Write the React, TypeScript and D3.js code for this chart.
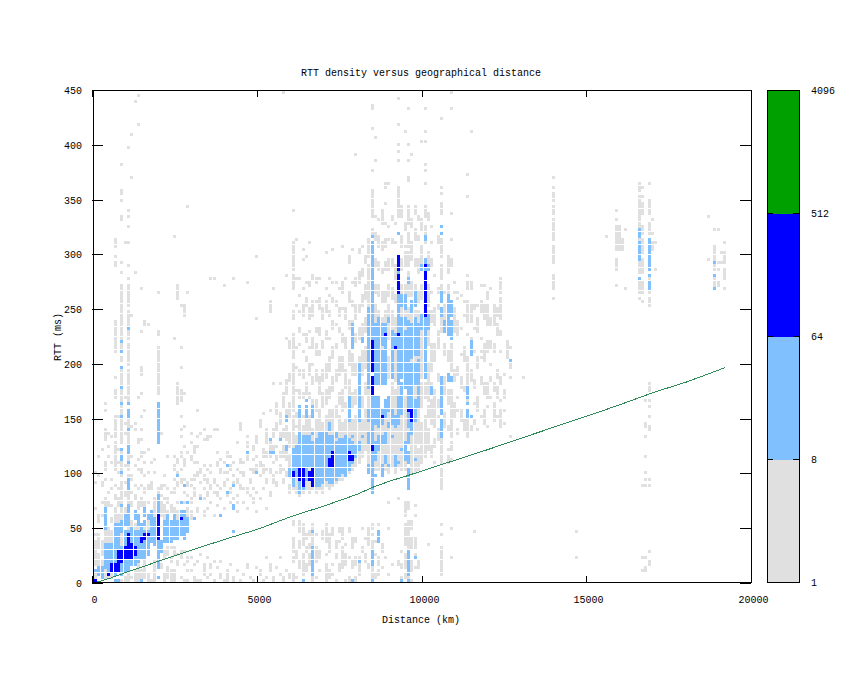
import React, { useEffect, useRef } from "react";
import * as d3 from "d3";

// histogram bins: 100 km wide, 3 ms tall. each entry is [column, "rows"], rows inclusive
const binKm = 100;
const binMs = 3;

const grayNearBins: [number, string][] = [
  [0, "1-3 5-12 14 22 30 33"], [1, "2-8 10-14 18-20 32 38"], [2, "1-6 8-12 20 24 29-30 40"],
  [3, "1-3 12-15 23-25 31 34-36 43-46 52 54"], [4, "1-2 12-16 23-24 27 38 41 45"],
  [5, "1-2 12-15 18-19 23 28 31 36 44"], [6, "0 17-22 25-26 29 34-42 44-50 56-58 62 70-79 96-97 99 102-104"],
  [7, "17-20 23-25 28 33 36 40 50"], [8, "0 11-14 18-30 32-40 42-64 67-68 71-76 77-90 94 97 110-111 116 118-119 127"],
  [9, "0-1 10-14 21-22 26-27 30 35 45 48 56 103"], [10, "0-2 16 20-32 34-52 54-64 66-72 74-76 78-82 84-90 92 96 103 108 111 113 132"],
  [11, "1 16-18 23-24 27 31-32 38 47 81 123 136"], [12, "0-3 16-17 21 25-26 29 35 46 48 94 146"],
  [13, "0-5 16 22-24 28 34 37 42-43 56 139 148"], [14, "0-3 17 23-25 29 33-34 38-39 43 46 50 57 63-65 76 89"],
  [15, "1-6 16 23-24 27-28 32 36 39 52 78-79"], [16, "0-2 16-19 24 28-29 33 40 78"], [17, "0 18 21 28-30 36"],
  [18, "0-6 17-25 33 37"], [19, "21-28 57-71 75-76 88"],
  [20, "4-5 20-24 26 28-29 45"], [21, "0-2 7-9 19-23 25 29 32"], [22, "1-4 8-10 19-21 24-25 28 38"],
  [23, "0-3 6-7 10 21-23 27"], [24, "0-3 8-10 20-22 27-28 31 34-35 38 74 105"],
  [25, "5-6 8 18-21 24 29-30 33 36-37 54-60 86-90"], [26, "1 7-9 20-21 24 30-31 34 38-39 44 46 50 55-58 65 71 84"],
  [27, "0 5 9 18-20 24 27 31 35-37 41 47 57 81-84"], [28, "0 3 6-7 20-22 26 29-30 39 88 114"],
  [29, "3 7 19-21 24-25 29 31 37-38 42 45"], [30, "0-1 5 26-28 31-32 36 39-41"],
  [31, "0 6 21-22 32-33 36 41 44 52"], [32, "0 8 25-26 30 33-34 45"], [33, "2-5 20-21 25 28 31-32 35 43 46"],
  [34, "1 7 22 26-27 30-31 34 43-44"], [35, "2 4-5 24 28-29 33 35 44 92"], [36, "0 6 20 27 30-31 46 92"],
  [37, "4 23 26-27 29 35-36 39 46"], [38, "1-2 6 25 28 33-34 37"], [39, "0 22 29-30 33 36 90"],
  [40, "0-3 26-27 31 33 38-39"], [41, "5 24 27-28 34-35 38"], [42, "0-1 25 30 32 36 92"],
  [43, "3 21 24 26 30-31 34 42"], [44, "0 28-29 33 36-37 46-48"], [45, "2 24 28 32-33 36"],
  [46, "4-5 22 27-28 37-38 41-42 44 91"], [47, "1 26 30-31 34"], [48, "0 24-25 28 33-34 37 40-41"],
  [49, "4 21 27 34-35 38 42-44 80 99"], [50, "2-3 25 32 35-36 47-49"], [51, "0 28 33-35 38-40 51"],
  [52, "1 7 22 30-31 34 38-39 42-46"], [53, "3-5 26-27 33-34 38 40-43 52 82-85"], [54, "0-1 30-32 36 40-41 44-46 60 89"],
  [55, "4 29-30 33 37-38 41 46-48 51-54"], [56, "2 7 33-35 38-39 43-45 48-51 60"], [57, "0-1 30-31 34 38-41 44-46 53-57 149"],
  [58, "3 32-33 37-40 43-47 50-52 57-61 74 93"], [59, "1-2 27-29 33-38 41-45 50-54 61-63 71-73"],
  [60, "0-2 6-7 9-13 17-18 28-50 52-66 68-75 80-82 89-93 95-103 113"],
];

const grayMidBins: [number, string][] = [
  [61, "1 7-9 27-44 47 50-51 58 65 71 84 92 104"],
  [62, "4-6 10-12 15-18 26-31 33-53 56-58 63-64 72 76-77 82 87 92"],
  [63, "2-8 11-17 27-47 50 56-57 62-64 70 75 81-84 89 98 101"],
  [64, "3-5 9-10 13-14 28-49 57-60 67-68 73-75 84-86 91 99"],
  [65, "5-8 10-11 14-15 27-50 56-57 63-66 71 76 80-83 90-91 103"],
  [66, "0-1 11-14 16-17 28-46 53-55 60-62 66 71-74 81-85 92-93"],
  [67, "1 6-10 14 27-49 52-55 61-64 69-72 76-77 85 91-92"],
  [68, "3 7-9 28-52 57-62 69-70 75-77 83-86 92"],
  [69, "13-15 27-48 53-57 61-64 71-73 80-83"],
  [70, "0-5 8 12-17 29-50 54-58 62-66 74-76 82-85 89 100"],
  [71, "1-3 9-14 28-52 56-59 64-68 74 81-82 87 92"],
  [72, "2 5 14-16 29-52 58-62 68-71 77-79 85-86 91 101"],
  [73, "0 7-8 10-12 30-45 50-53 61-64 71-72 78 84-85 91"],
  [74, "3-5 12 15-16 31-50 54-57 63-68 76-77 81-83 89"],
  [75, "4-10 13-16 31-48 52-58 64-68 73-75 83 88-91 102"],
  [76, "0 5-8 11 32-49 53-54 59-64 71-74 80-83 92"],
  [77, "0-1 7 15-16 33-50 57-61 66-70 77-79 85-88 97-99"],
  [78, "4-6 10-13 34-49 53-57 63-69 75-79 84-85 91 101"],
  [79, "0-1 5-7 12-13 35-50 54-58 63-66 73-75 80-84 90-92 130"],
  [80, "2-7 36-50 55-58 63-68 74-77 82-84 91-94 100-101"],
  [81, "9-10 16 38-49 53-56 63-70 75-78 84-87 93-95 102"],
  [82, "6-8 13 40-52 57-60 65-71 76-80 86-90 97-99"],
  [83, "4-5 11-16 36-49 52-60 84-96 99-104"],
  [84, "0-4 9-12 14 16-17 105-107 111-119 125 138 144-145"],
  [85, "1-2 8 12 34-47 60-84 88-90 96-98 104-106 111 128 135"],
  [86, "2-3 5-7 17 34-46 62-82 87-90 95-97 102-105 110"],
  [87, "4 9-11 33-47 64-80 85-88 94-95 101-103 109-113"],
  [88, "7 34-49 60-82 85-88 95-97 102-104 109 115 120-121"],
  [89, "2 16 24 33-46 49-51 62-68 74-84 87-90 95-98 104 108 121"],
  [90, "5 35-47 53-60 62-82 86-89 96-98 103-104 110-111"],
  [91, "33-46 51-58 61-80 85-87 92-96 103 109"],
  [92, "5-6 25 35-47 57-60 84-86 111-119 120 128 131 133 139 147"],
  [93, "1 4-5 9 34-39 41-50 62-83 86-90 95-98 102-105 111-114"],
  [94, "1-2 4-8 11-17 20-24 34-36 43-56 60-84 87-90 96-100 102 107-109 137"],
  [95, "0-1 10-18 22-24 46 80-83 87-90 92-94 96-100 102-106 109-114 122-123 128 133 144"],
  [96, "0 3-6 10-13 16-18 33-44 49-52 60-84 87-91 98-103 108-110 130"],
  [97, "4 7-8 10-13 20 23 33-36 38-48 56-59 62-82 85-90 96-98 104-107 112-114"],
  [98, "4-6 34-40 42-52 60-82 85-88 94-98 104-105 110-111"],
  [99, "36-48 53-60 62-80 86-90 96-102 107-110 134"],
  [100, "38-50 56-60 82-83 103-108 111-114 121 125 127 134 137 144"],
  [101, "11 40-46 50-53 55-66 72-82 84-90 96-100 110-112"],
  [102, "38-41 48-55 60 64-72 79-82 88 96-98 103 108"],
  [103, "36 41-43 47-58 67-72 78-83 93"],
  [104, "43-46 50 53-55 61-63 71-76 83-84 88-89 103-105"],
  [105, "2-5 6-10 14 17 28-30 31-34 36-43 60-61 76-80 89-90 92-96 99-104 112-115 118 120 141"],
  [106, "47-51 57-62 69-72 80-84 88"],
  [107, "36-38 40 46-47 54-58 67-70 84 88-90 94-99"],
  [108, "7 16 37 40-42 44-58 64-72 96-98 104 112 144 149"],
];

const grayFarBins: [number, string][] = [
  [109, "50-54 61-64 76-83 88 91"], [110, "45-46 52 56 63-65 75-79 86 88"],
  [111, "49-52 59-62 69 77 87"], [112, "46-49 58-59 67-71 81 85"],
  [113, "44-49 55-58 60-68 75 79-85 89-91 93 117 124"], [114, "46-47 61-64 74 79-84 89-91 137"],
  [115, "15 48-49 54 59-61 70 77 83-84"], [116, "46 52-56 65-68 76-80 84"],
  [117, "50 60-62 68 70 74 82-85 90"], [118, "48-52 57-60 67-72 80-84 90"],
  [119, "47 53 56-60 70-73 78-84 86-88"], [120, "56 61-62 66 71-73 78-80 89"],
  [121, "49-54 58-60 70-72 78-84"], [122, "50 56-59 62-64 75-78 81-83"],
  [123, "47-52 55 60-62 70 75-76 80-86 88-92"], [124, "48 52 56-58 63"],
  [125, "68-73"], [126, "44 62 65-66 71"], [130, "62"],
  [139, "86 89-91 92-93 97-101 102 104-110 112-114 116-118 120 123"],
  [146, "7 15"], [155, "105"],
  [158, "90 95-97 98 101-108 110 113"], [159, "101-108"], [160, "101-104"], [161, "89 107"],
  [165, "88-91 94-98 103-105 108-111 112-117 119-121 86"], [166, "88-91 94-98 100-104 106-108 112-115 117 120 85 29 3 7"],
  [167, "3-4 7 29 31 33 38 44 47-48 55"], [168, "5-6 9 29 31 46-47 50 53 55 58-60 84-86 88-91 92-93 95-98 101-104 106-108 109 112-115 116 121"],
  [169, "101-103 106 110"], [170, "95 103"], [186, "98 111"],
  [188, "90-93 95-97 98-102 107"], [189, "90-91 95 97 107"], [190, "97 100"],
  [191, "89 92-95 97 98-100 103"],
];

const lightBins: [number, string][] = [
  [0, "3"], [1, "2-4"], [2, "1-4"], [3, "4-11 16-22"], [4, "3-11"], [5, "3-11"],
  [6, "0 2-17"], [7, "0 3-17"], [8, "2-10 15-18 23 33 37-38 40 50 54 59 65 70 73"],
  [9, "3-15 17-20"], [10, "3-15 17-23 28-31 36 39-41 46 50-52 54 77"], [11, "5-16"],
  [12, "5-15 19-21"], [13, "6-15 17-20"], [14, "0 7-17"], [15, "7-15 17-18 20-22"],
  [16, "8-15 19-20"], [17, "12-18 19-21"], [18, "11-19"],
  [19, "1 4-12 21-26 42-54"], [20, "9-12"], [21, "12-18"], [22, "12-18 19-20"], [23, "12-18"],
  [24, "13-18 19-20"], [25, "13-18 32"], [26, "14-21 24"], [27, "13-21 29"], [28, "15-19 24"],
  [30, "19"], [32, "25"], [38, "20"], [40, "27 35"], [42, "15 22-23 29"], [46, "39"],
  [49, "33"], [53, "39 43"], [54, "39"], [56, "43"], [58, "40-41 49-50"],
  [59, "32-34"], [60, "29-40"], [61, "32-41"], [62, "27-31 35-45 50-53"], [63, "0 28-30 35-44"],
  [64, "31-44 50-53 55"], [65, "35-44"], [66, "2-10 15 30-42 45 50-53"], [67, "29-43"],
  [68, "29-45"], [69, "30-45"], [70, "31-45"], [71, "30-44 46-48"], [72, "30-44"],
  [73, "31-42 44-45"], [74, "32-43"], [75, "33-43"], [76, "32-44"], [77, "34-43 49-56"],
  [78, "0 36-42 44 71-78"], [79, "38-41"], [80, "6 40-42 49-66"], [81, "44 73-74"],
  [83, "33-35 42-45 49-52 59-83"], [84, "0 5-9 27-56 60-61 74-83 84-86 87-90 91-94 95-97 98-103 105"],
  [85, "32 37-42 48-56 60-78"], [86, "12-15 40-44 47-56 60-80"], [87, "32-35 42-44 48-52 60-70 72-78"],
  [88, "36-38 42-45 50-55 60-78"], [89, "35 47-48 52-56 79-80"], [90, "44 48-52 62-76"],
  [91, "35-38 47-50 72-75"], [92, "36 48-56 60-80 81-84 85-87 94 106"], [93, "0 40 51-60 62-80 84-87"],
  [94, "37-42 59-76 78-80 83-87"], [95, "0 2-9 28-34 36-39 42-45 47-79 91-92"],
  [96, "45-48 53-66 68-78 82-85"], [97, "7 37 49-55 60-66 69-80 84-88"], [98, "53-67 69-78"],
  [99, "77-81 95-96"], [100, "62-81 84-98 104-105"], [101, "77-81 95-96"], [102, "57-59"],
  [105, "44-46 47-49 51-54 55-58 59-60 61-62 81-83 85-87 88 106 108"], [106, "76-79"],
  [107, "61-63 75-87"], [108, "61-62 74-79 81-85"], [113, "50-52 54 56-59"], [114, "50 69-73"],
  [126, "67"],
  [165, "92 98-103 105-107"], [168, "89-91 93 95-104"], [188, "89 93 97"],
];

const blueBins: [number, string][] = [
  [0, "0"], [4, "2"], [5, "3-5"], [6, "3-5"], [7, "3-9"], [8, "6-9"], [9, "7-10"], [10, "7-14"],
  [11, "7-11"], [12, "8-10"], [14, "12-13"], [15, "13-14"], [16, "14"], [19, "13-20"], [26, "19"],
  [60, "32-33"], [62, "31-34"], [63, "29-30 31-34"], [65, "31-33"], [66, "29-30 31-34"],
  [71, "35-37"], [72, "35-39"], [77, "37-39"], [78, "37-38"],
  [84, "40-41 57-59 60-62 64-67 68-73"], [87, "50"], [88, "75"], [91, "71"], [92, "75 88-93 95-99"],
  [95, "52"], [96, "49-52"], [100, "81-83 84-88 89-94 96"],
];

// the green reference line, read at a few distances
const lineKm = [0, 500, 1000, 1500, 2000, 3000, 4000, 5000, 6000, 7000, 8000, 8500, 9000, 9500, 10000, 11000, 12000, 13000, 14000, 15000, 16000, 17000, 18000, 19150];
const lineRtt = [0, 4.5, 10, 15, 20.5, 30.5, 40.2, 49.5, 61, 70.6, 81.3, 88, 93.5, 98, 103, 112.7, 122.5, 132.8, 143, 153, 163.5, 174.5, 184, 197];

const xTicks = [0, 5000, 10000, 15000, 20000];
const yTicks = [0, 50, 100, 150, 200, 250, 300, 350, 400, 450];
const colorStops = [1, 8, 64, 512, 4096];
const colorFills = ["#e0e0e0", "#80c0ff", "#0000ff", "#00a000"];

const fontFamily = "'Liberation Mono', 'DejaVu Sans Mono', monospace";

const parseBins = (bins: [number, string][]) =>
  bins.flatMap(([col, spans]) =>
    spans.split(" ").flatMap(s => {
      const [a, b = a] = s.split("-").map(Number);
      return d3.range(a, b + 1).map(row => ({ col, row }));
    })
  );

const App = () => {
  const svgRef = useRef<SVGSVGElement>(null);

  useEffect(() => {
    const svg = d3.select(svgRef.current);
    svg.selectAll("*").remove();

    const x = d3.scaleLinear().domain([0, 20000]).rangeRound([92, 751]);
    const y = d3.scaleLinear().domain([0, 450]).rangeRound([583, 90]);
    const xCell = d3.scaleLinear().domain([0, 20000]).range([94, 753]);
    const yCell = d3.scaleLinear().domain([0, 450]).range([583, 91]);
    const colorY = d3.scaleLog().base(2).domain([1, 4096]).range([582, 90]);

    const drawCells = (bins: [number, string][], fill: string) => {
      svg.append("g")
        .attr("fill", fill)
        .attr("shape-rendering", "crispEdges")
        .selectAll("rect")
        .data(parseBins(bins))
        .join("rect")
        .attr("x", d => Math.round(xCell(d.col * binKm)))
        .attr("y", d => Math.floor(yCell((d.row + 1) * binMs)))
        .attr("width", 3)
        .attr("height", 3);
    };

    drawCells(grayNearBins, colorFills[0]);
    drawCells(grayMidBins, colorFills[0]);
    drawCells(grayFarBins, colorFills[0]);
    drawCells(lightBins, colorFills[1]);
    drawCells(blueBins, colorFills[2]);

    const line = d3.line<number>()
      .x(d => xCell(d))
      .y((d, i) => yCell(lineRtt[i]));
    svg.append("path")
      .attr("d", line(lineKm))
      .attr("fill", "none")
      .attr("stroke", "#2e8b57")
      .attr("stroke-width", 1)
      .attr("shape-rendering", "crispEdges");

    // plot frame and ticks, gnuplot style: inward and mirrored
    svg.append("rect")
      .attr("x", 93.5).attr("y", 90.5).attr("width", 658).attr("height", 492)
      .attr("fill", "none").attr("stroke", "#000").attr("shape-rendering", "crispEdges");

    const styleAxis = (g: any) => {
      g.attr("font-family", fontFamily).attr("font-size", 10).attr("shape-rendering", "crispEdges");
      g.select(".domain").remove();
      g.selectAll("text").attr("fill", "#000");
    };

    svg.append("g").attr("transform", "translate(0,583)")
      .call(d3.axisBottom(x).tickValues(xTicks).tickFormat(d3.format("d")).tickSizeInner(-7).tickSizeOuter(0).tickPadding(13))
      .call(styleAxis)
      .call((g: any) => g.selectAll("text").attr("dx", 2));
    svg.append("g").attr("transform", "translate(0,90)")
      .call(d3.axisTop(x).tickValues(xTicks).tickFormat(() => "").tickSizeInner(-7).tickSizeOuter(0))
      .call(styleAxis);
    svg.append("g").attr("transform", "translate(92,0)")
      .call(d3.axisLeft(y).tickValues(yTicks).tickSizeInner(-11).tickSizeOuter(0).tickPadding(10))
      .call(styleAxis);
    svg.append("g").attr("transform", "translate(751,0)")
      .call(d3.axisRight(y).tickValues(yTicks).tickFormat(() => "").tickSizeInner(-11).tickSizeOuter(0))
      .call(styleAxis);

    // colour box
    svg.append("g")
      .attr("shape-rendering", "crispEdges")
      .selectAll("rect")
      .data(colorFills)
      .join("rect")
      .attr("x", 768)
      .attr("width", 31)
      .attr("y", (d, i) => colorY(colorStops[i + 1]) + 1)
      .attr("height", (d, i) => colorY(colorStops[i]) - colorY(colorStops[i + 1]))
      .attr("fill", d => d);
    svg.append("rect")
      .attr("x", 767.5).attr("y", 90.5).attr("width", 32).attr("height", 492)
      .attr("fill", "none").attr("stroke", "#000").attr("shape-rendering", "crispEdges");
    svg.append("g").attr("transform", "translate(799,0)")
      .call(d3.axisRight(colorY).tickValues(colorStops).tickFormat(d3.format("d")).tickSizeInner(-6).tickSizeOuter(0).tickPadding(12))
      .call(styleAxis);
    svg.append("g").attr("transform", "translate(767,0)")
      .call(d3.axisLeft(colorY).tickValues(colorStops.slice(1, -1)).tickFormat(() => "").tickSizeInner(-6).tickSizeOuter(0))
      .call(styleAxis);

    const label = (text: string, tx: number, ty: number, rotate = 0) =>
      svg.append("text")
        .attr("transform", `translate(${tx},${ty}) rotate(${rotate})`)
        .attr("text-anchor", "middle")
        .attr("font-family", fontFamily)
        .attr("font-size", 10)
        .attr("fill", "#000")
        .text(text);

    label("RTT density versus geographical distance", 421, 76);
    label("Distance (km)", 421, 623);
    label("RTT (ms)", 61, 337, -90);
  }, []);

  return (
    <svg
      ref={svgRef}
      width={845}
      height={673}
      style={{ position: "absolute", left: 0, top: 0, background: "#fff" }}
    />
  );
};

export default App;
